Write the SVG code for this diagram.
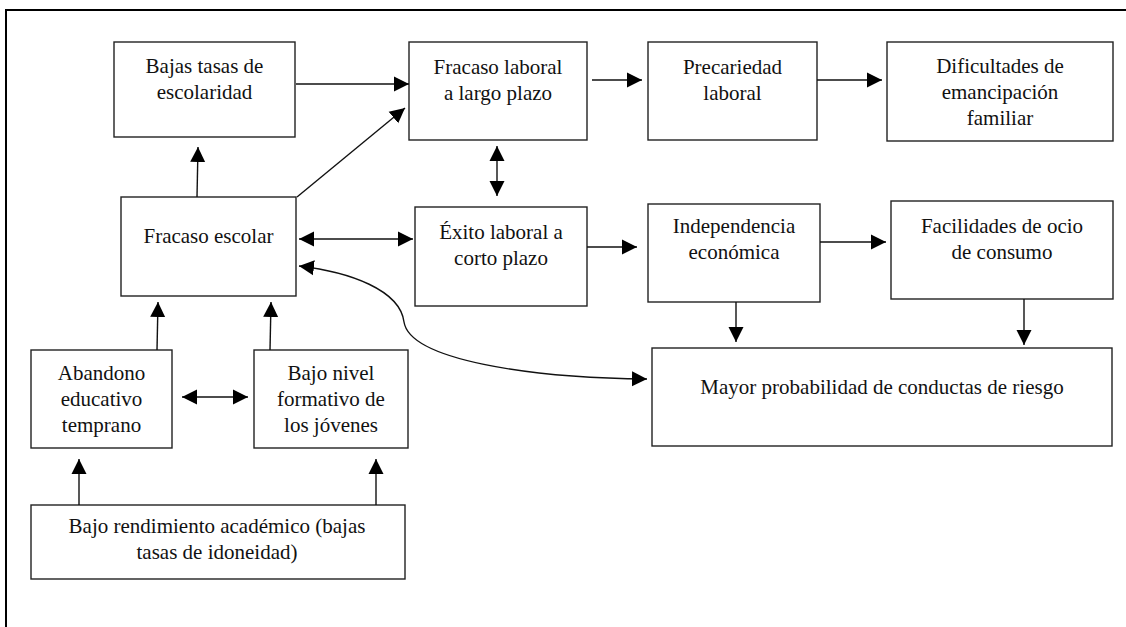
<svg xmlns="http://www.w3.org/2000/svg" width="1126" height="627" viewBox="0 0 1126 627">
<style>
.box{fill:#fff;stroke:#222;stroke-width:1.4}
.t{font-family:'Liberation Serif','Times New Roman',serif;font-size:21px;fill:#111;text-anchor:middle}
.c{fill:none;stroke:#111;stroke-width:1.4}
</style>
<defs>
<marker id="ah" markerUnits="userSpaceOnUse" markerWidth="16" markerHeight="16" viewBox="0 0 16 16" refX="15" refY="8" orient="auto-start-reverse">
<path d="M0,0.5 L15,8 L0,15.5 Z" fill="#000"/>
</marker>
</defs>
<rect width="1126" height="627" fill="#fff"/>
<path d="M6,627 V10 H1126" fill="none" stroke="#000" stroke-width="2"/>

<g id="n_bajas_tasas"><rect class="box" x="114" y="42" width="181" height="95"/><text class="t" x="204.5" y="73">Bajas tasas de</text><text class="t" x="204.5" y="99">escolaridad</text></g>
<g id="n_fracaso_laboral"><rect class="box" x="409" y="42" width="178" height="98"/><text class="t" x="498" y="74">Fracaso laboral</text><text class="t" x="498" y="100">a largo plazo</text></g>
<g id="n_precariedad"><rect class="box" x="648" y="42" width="169" height="98"/><text class="t" x="732.5" y="74">Precariedad</text><text class="t" x="732.5" y="100">laboral</text></g>
<g id="n_dificultades"><rect class="box" x="887" y="42" width="226" height="99"/><text class="t" x="1000" y="73">Dificultades de</text><text class="t" x="1000" y="99">emancipación</text><text class="t" x="1000" y="125">familiar</text></g>
<g id="n_fracaso_escolar"><rect class="box" x="121" y="197" width="175" height="99"/><text class="t" x="208.5" y="243">Fracaso escolar</text></g>
<g id="n_exito"><rect class="box" x="415" y="207" width="172" height="99"/><text class="t" x="501" y="239">Éxito laboral a</text><text class="t" x="501" y="265">corto plazo</text></g>
<g id="n_independencia"><rect class="box" x="648" y="204" width="172" height="98"/><text class="t" x="734" y="233">Independencia</text><text class="t" x="734" y="259">económica</text></g>
<g id="n_facilidades"><rect class="box" x="891" y="201" width="222" height="98"/><text class="t" x="1002" y="233">Facilidades de ocio</text><text class="t" x="1002" y="259">de consumo</text></g>
<g id="n_mayor"><rect class="box" x="652" y="348" width="460" height="98"/><text class="t" x="882" y="394">Mayor probabilidad de conductas de riesgo</text></g>
<g id="n_abandono"><rect class="box" x="31" y="350" width="141" height="98"/><text class="t" x="101.5" y="380">Abandono</text><text class="t" x="101.5" y="406">educativo</text><text class="t" x="101.5" y="432">temprano</text></g>
<g id="n_bajo_nivel"><rect class="box" x="254" y="350" width="154" height="98"/><text class="t" x="331" y="380">Bajo nivel</text><text class="t" x="331" y="406">formativo de</text><text class="t" x="331" y="432">los jóvenes</text></g>
<g id="n_bajo_rendimiento"><rect class="box" x="31" y="505" width="374" height="74"/><text class="t" x="217" y="533">Bajo rendimiento académico (bajas</text><text class="t" x="217" y="559">tasas de idoneidad)</text></g>

<g id="connectors">
<line class="c" x1="296" y1="84" x2="409" y2="84" marker-end="url(#ah)"/>
<line class="c" x1="297" y1="197" x2="405" y2="108" marker-end="url(#ah)"/>
<line class="c" x1="197" y1="197" x2="198" y2="147" marker-end="url(#ah)"/>
<line class="c" x1="592" y1="80" x2="642" y2="80" marker-end="url(#ah)"/>
<line class="c" x1="817" y1="80" x2="882" y2="80" marker-end="url(#ah)"/>
<line class="c" x1="497" y1="146" x2="497" y2="196" marker-start="url(#ah)" marker-end="url(#ah)"/>
<line class="c" x1="299" y1="239" x2="413" y2="239" marker-start="url(#ah)" marker-end="url(#ah)"/>
<line class="c" x1="587" y1="247" x2="637" y2="247" marker-end="url(#ah)"/>
<line class="c" x1="820" y1="242" x2="886" y2="242" marker-end="url(#ah)"/>
<line class="c" x1="736" y1="302" x2="736" y2="342" marker-end="url(#ah)"/>
<line class="c" x1="1024" y1="299" x2="1024" y2="345" marker-end="url(#ah)"/>
<path class="c" d="M299,266 C350,272 400,290 404,322 C410,360 530,378 647,379" marker-start="url(#ah)" marker-end="url(#ah)"/>
<line class="c" x1="182" y1="397" x2="248" y2="397" marker-start="url(#ah)" marker-end="url(#ah)"/>
<line class="c" x1="157" y1="350" x2="158" y2="302" marker-end="url(#ah)"/>
<line class="c" x1="270" y1="350" x2="271" y2="302" marker-end="url(#ah)"/>
<line class="c" x1="79" y1="505" x2="79" y2="459" marker-end="url(#ah)"/>
<line class="c" x1="376" y1="505" x2="376" y2="459" marker-end="url(#ah)"/>
</g>
</svg>
